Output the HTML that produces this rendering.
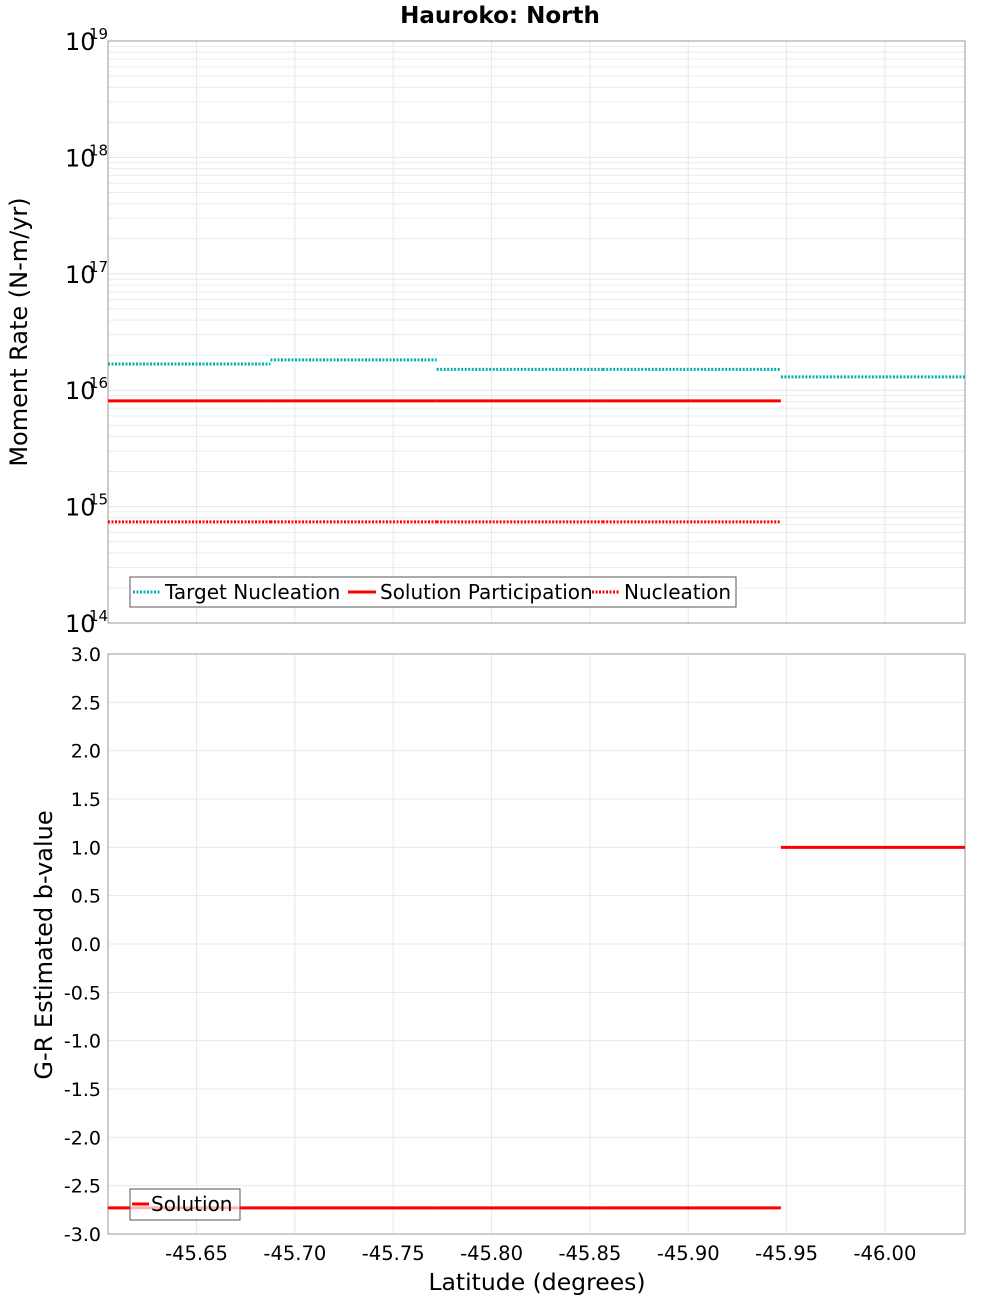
<!DOCTYPE html>
<html><head><meta charset="utf-8"><style>body{margin:0;background:#fff}svg{display:block;font-family:"DejaVu Sans","Liberation Sans",sans-serif}</style></head>
<body>
<svg id="c" width="1000" height="1300"></svg>
<script>
const segBounds=[-45.605,-45.6876,-45.7721,-45.8565,-45.9471,-46.0407];
const targetNucleation=[1.68e16,1.82e16,1.51e16,1.51e16,1.30e16];
const solutionParticipation=[8.1e15,8.1e15,8.1e15,8.1e15,null];
const nucleation=[7.4e14,7.4e14,7.4e14,7.4e14,null];
const bValues=[-2.73,-2.73,-2.73,-2.73,1.0];
const xTicks=[-45.65,-45.70,-45.75,-45.80,-45.85,-45.90,-45.95,-46.00];
const yTicksB=[3,2.5,2,1.5,1,0.5,0,-0.5,-1,-1.5,-2,-2.5,-3];
const decades=[14,15,16,17,18,19];

const L=108,R=965,T1=41,B1=623,T2=654,B2=1234;
const sx=v=>L+(v-segBounds[0])/(segBounds[5]-segBounds[0])*(R-L);
const sy1=v=>B1-(Math.log10(v)-14)/5*(B1-T1);
const sy2=v=>B2-(v+3)/6*(B2-T2);
const svg=document.getElementById('c');const NS='http://www.w3.org/2000/svg';
function mk(t,a,txt){const e=document.createElementNS(NS,t);for(const k in a)e.setAttribute(k,a[k]);if(txt!==undefined)e.textContent=txt;svg.appendChild(e);return e;}
for(const d of decades.slice(0,5))for(let m=1;m<=9;m++){const y=sy1(m*Math.pow(10,d));const g=mk('line',{x1:L,x2:R,y1:y,y2:y,stroke:m==1?'#e4e4e4':'#ececec','stroke-width':1});}
for(const v of yTicksB){const y=sy2(v);const g=mk('line',{x1:L,x2:R,y1:y,y2:y,stroke:'#e8e8e8'});}
for(const v of xTicks){const x=sx(v);for(const [a,b] of [[T1,B1],[T2,B2]]){const g=mk('line',{x1:x,x2:x,y1:a,y2:b,stroke:'#e8e8e8'});}}
let f=mk('rect',{x:L,y:T1,width:R-L,height:B1-T1,fill:'none',stroke:'#999'});
f=mk('rect',{x:L,y:T2,width:R-L,height:B2-T2,fill:'none',stroke:'#999'});
function steps(arr,sy,color,dash,name){arr.forEach((v,i)=>{if(v==null)return;const y=sy(v);const a={x1:sx(segBounds[i]),x2:sx(segBounds[i+1]),y1:y,y2:y,stroke:color,'stroke-width':3};if(dash)a['stroke-dasharray']='2,1.5';const l=mk('line',a);});}
steps(targetNucleation,sy1,'#00b0b0',true,'target-nucleation-segment');
steps(solutionParticipation,sy1,'#ff0000',false,'solution-participation-segment');
steps(nucleation,sy1,'#ff0000',true,'nucleation-segment');
steps(bValues,sy2,'#ff0000',false,'b-value-segment');
for(const d of decades){const y=sy1(Math.pow(10,d));const t=mk('text',{x:65,y:y+9,'font-size':24,fill:'#000'},'10');const s=mk('text',{x:89,y:y-2,'font-size':15},String(d));}
for(const v of yTicksB){const t=mk('text',{x:101,y:sy2(v)+7,'font-size':19,'text-anchor':'end'},v.toFixed(1));}
for(const v of xTicks){const t=mk('text',{x:sx(v),y:1260,'font-size':19.5,'text-anchor':'middle'},v.toFixed(2));}
let t=mk('text',{x:500,y:23,'font-size':23,'font-weight':'bold','text-anchor':'middle'},'Hauroko: North');
t=mk('text',{x:537,y:1290,'font-size':23.5,'text-anchor':'middle'},'Latitude (degrees)');
t=mk('text',{x:0,y:0,'font-size':24,'text-anchor':'middle',transform:'translate(27,332) rotate(-90)'},'Moment Rate (N-m/yr)');
t=mk('text',{x:0,y:0,'font-size':24,'text-anchor':'middle',transform:'translate(52,945) rotate(-90)'},'G-R Estimated b-value');
let r=mk('rect',{x:130,y:577,width:604,height:30,fill:'#fff',stroke:'#555'});
const items=[['Target Nucleation','#00b0b0',true,133],['Solution Participation','#ff0000',false,348],['Nucleation','#ff0000',true,592]];
for(const [n,c,d,x] of items){const a={x1:x,x2:x+28,y1:592,y2:592,stroke:c,'stroke-width':3};if(d)a['stroke-dasharray']='2,1.5';const l=mk('line',a);const tt=mk('text',{x:x+32,y:599,'font-size':20},n);}
r.setAttribute('width',606);
r=mk('rect',{x:130,y:1189,width:110,height:31,fill:'rgba(255,255,255,0.7)',stroke:'#555'});
let l=mk('line',{x1:132,x2:149,y1:1204,y2:1204,stroke:'#ff0000','stroke-width':3});
t=mk('text',{x:151,y:1211,'font-size':20},'Solution');
</script>
</body></html>
